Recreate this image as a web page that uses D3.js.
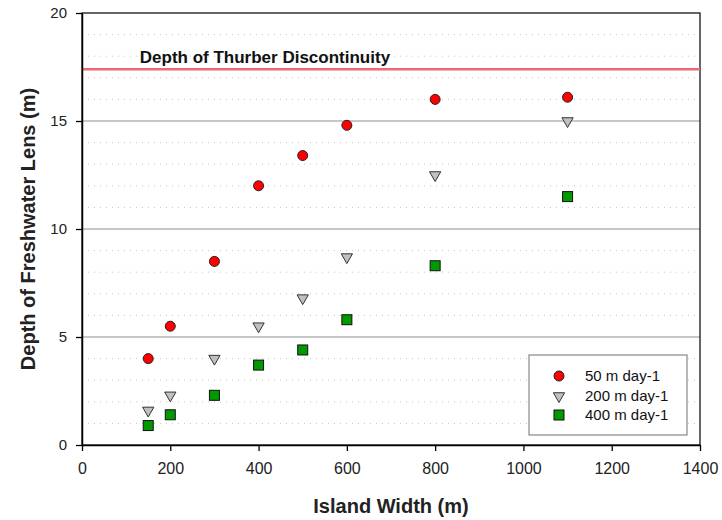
<!DOCTYPE html>
<html>
<head>
<meta charset="utf-8">
<script src="https://cdn.jsdelivr.net/npm/d3@7"></script>
<style>
  body { margin: 0; background: #fff; }
  text { font-family: "Liberation Sans", Arial, sans-serif; }
</style>
</head>
<body>
<script>
// DATA
const widths = [150, 200, 300, 400, 500, 600, 800, 1100];
const depth50 = [4.0, 5.5, 8.5, 12.0, 13.4, 14.8, 16.0, 16.1];
const depth200 = [1.6, 2.3, 4.0, 5.5, 6.8, 8.7, 12.5, 15.0];
const depth400 = [0.9, 1.4, 2.3, 3.7, 4.4, 5.8, 8.3, 11.5];
const seriesNames = ['50 m day-1', '200 m day-1', '400 m day-1'];
const xTicks = [0, 200, 400, 600, 800, 1000, 1200, 1400];
const yTicks = [0, 5, 10, 15, 20];
const thurberDepth = 17.4;

// CONFIGURATION
const width = 722;
const height = 520;
const margin = { left: 82, right: 22, top: 13, bottom: 75 };

const xScale = d3.scaleLinear()
  .domain([0, 1400])
  .range([margin.left, width - margin.right]);
const yScale = d3.scaleLinear()
  .domain([0, 20])
  .range([height - margin.bottom, margin.top]);

const svg = d3.select('body')
  .append('svg')
  .attr('width', width)
  .attr('height', height);

// GRID
svg.append('g')
  .selectAll('line')
  .data(d3.range(1, 20).filter(function(v) { return v % 5 !== 0; }))
  .enter()
  .append('line')
  .attr('x1', margin.left)
  .attr('x2', width - margin.right)
  .attr('y1', function(d) { return yScale(d); })
  .attr('y2', function(d) { return yScale(d); })
  .attr('stroke', '#c8c8c0')
  .attr('stroke-width', 1)
  .attr('stroke-dasharray', '1,5');

svg.append('g')
  .selectAll('line')
  .data([5, 10, 15])
  .enter()
  .append('line')
  .attr('x1', margin.left)
  .attr('x2', width - margin.right)
  .attr('y1', function(d) { return yScale(d); })
  .attr('y2', function(d) { return yScale(d); })
  .attr('stroke', '#b4b4b4')
  .attr('stroke-width', 1.5);

// FRAME
svg.append('rect')
  .attr('x', margin.left)
  .attr('y', margin.top)
  .attr('width', width - margin.right - margin.left)
  .attr('height', height - margin.bottom - margin.top)
  .attr('fill', 'none')
  .attr('stroke', '#000')
  .attr('stroke-width', 1.2);

// THURBER LINE
svg.append('line')
  .attr('x1', margin.left)
  .attr('x2', width - margin.right)
  .attr('y1', yScale(thurberDepth))
  .attr('y2', yScale(thurberDepth))
  .attr('stroke', '#f06878')
  .attr('stroke-width', 2.5);
svg.append('text')
  .attr('x', xScale(131))
  .attr('y', yScale(thurberDepth) - 6)
  .attr('font-size', 17)
  .attr('font-weight', 'bold')
  .attr('fill', '#111')
  .text('Depth of Thurber Discontinuity');

// AXES
const xAxis = svg.append('g')
  .attr('transform', `translate(0, ${yScale(0)})`)
  .call(d3.axisBottom(xScale).tickValues(xTicks).tickFormat(d3.format('d'))
    .tickSize(6).tickPadding(12).tickSizeOuter(0));
const yAxis = svg.append('g')
  .attr('transform', `translate(${margin.left}, 0)`)
  .call(d3.axisLeft(yScale).tickValues(yTicks).tickFormat(d3.format('d'))
    .tickSize(6).tickPadding(9).tickSizeOuter(0));
[xAxis, yAxis].forEach(function(a, i) {
  a.select('.domain').attr('stroke', '#000').attr('stroke-width', 1.5);
  a.selectAll('.tick line').attr('stroke', '#000').attr('stroke-width', 1.3);
  a.selectAll('.tick text')
    .attr('font-size', i === 0 ? 16 : 15)
    .attr('fill', '#222')
    .style('font-family', '"Liberation Sans", Arial, sans-serif');
});

svg.append('text')
  .attr('x', xScale(700))
  .attr('y', 513)
  .attr('text-anchor', 'middle')
  .attr('font-size', 20)
  .attr('font-weight', 'bold')
  .attr('fill', '#222')
  .text('Island Width (m)');
svg.append('text')
  .attr('transform', `translate(35, ${yScale(10)}) rotate(-90)`)
  .attr('text-anchor', 'middle')
  .attr('font-size', 20)
  .attr('font-weight', 'bold')
  .attr('fill', '#222')
  .text('Depth of Freshwater Lens (m)');

// MARKERS
const triangle = d3.symbol().type(d3.symbolTriangle).size(55);

svg.append('g')
  .selectAll('circle')
  .data(d3.zip(widths, depth50))
  .enter()
  .append('circle')
  .attr('cx', function(d) { return xScale(d[0]); })
  .attr('cy', function(d) { return yScale(d[1]); })
  .attr('r', 5)
  .attr('fill', '#ff0000')
  .attr('stroke', '#222')
  .attr('stroke-width', 1);

svg.append('g')
  .selectAll('path')
  .data(d3.zip(widths, depth200))
  .enter()
  .append('path')
  .attr('d', triangle)
  .attr('transform', function(d) {
    return `translate(${xScale(d[0])}, ${yScale(d[1])}) rotate(180)`;
  })
  .attr('fill', '#c0c0c0')
  .attr('stroke', '#333')
  .attr('stroke-width', 1);

svg.append('g')
  .selectAll('rect')
  .data(d3.zip(widths, depth400))
  .enter()
  .append('rect')
  .attr('x', function(d) { return xScale(d[0]) - 5; })
  .attr('y', function(d) { return yScale(d[1]) - 5; })
  .attr('width', 10)
  .attr('height', 10)
  .attr('fill', '#009900')
  .attr('stroke', '#111')
  .attr('stroke-width', 1);

// LEGEND
const legend = svg.append('g');
legend.append('rect')
  .attr('x', 529)
  .attr('y', 355)
  .attr('width', 158)
  .attr('height', 80)
  .attr('fill', '#fff')
  .attr('stroke', '#888')
  .attr('stroke-width', 1.2);

const rowY = [376, 396, 415];
legend.append('circle')
  .attr('cx', 559).attr('cy', rowY[0]).attr('r', 5)
  .attr('fill', '#ff0000').attr('stroke', '#222');
legend.append('path')
  .attr('d', triangle)
  .attr('transform', `translate(559, ${rowY[1]}) rotate(180)`)
  .attr('fill', '#c0c0c0').attr('stroke', '#333');
legend.append('rect')
  .attr('x', 554).attr('y', rowY[2] - 5).attr('width', 10).attr('height', 10)
  .attr('fill', '#009900').attr('stroke', '#111');

legend.selectAll('text.lbl')
  .data(seriesNames)
  .enter()
  .append('text')
  .attr('class', 'lbl')
  .attr('x', 585)
  .attr('y', function(d, i) { return rowY[i] + 5; })
  .attr('font-size', 15)
  .attr('fill', '#111')
  .text(function(d) { return d; });
</script>
</body>
</html>
